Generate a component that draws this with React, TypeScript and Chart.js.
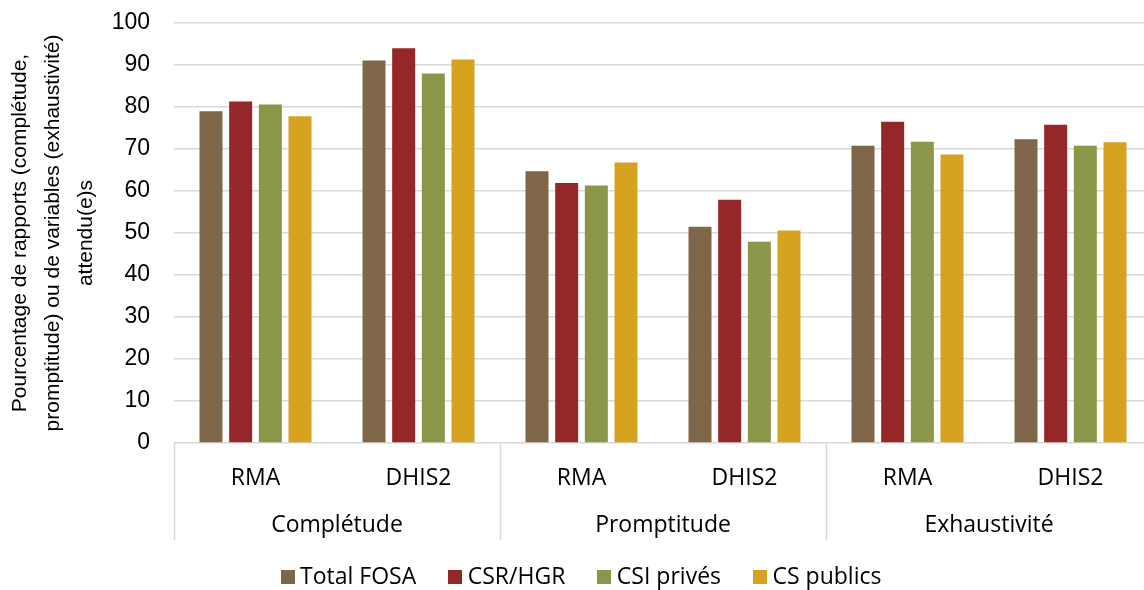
import React, { useEffect, useRef } from "react";
import { Chart, registerables } from "chart.js";

Chart.register(...registerables);

const categories = ["RMA", "DHIS2", "RMA", "DHIS2", "RMA", "DHIS2"];
const groups = ["Complétude", "Promptitude", "Exhaustivité"];
const seriesNames = ["Total FOSA", "CSR/HGR", "CSI privés", "CS publics"];
const totalFosa = [79.0, 91.1, 64.7, 51.5, 70.8, 72.3];
const csrHgr = [81.3, 94.0, 61.9, 57.9, 76.5, 75.8];
const csiPrives = [80.6, 88.0, 61.3, 47.9, 71.7, 70.8];
const csPublics = [77.8, 91.3, 66.8, 50.6, 68.7, 71.6];
const seriesColors = ["#7f6648", "#952729", "#8b9648", "#d6a220"];
const yTitle = [
  "Pourcentage de rapports (complétude,",
  "promptitude) ou de variables (exhaustivité)",
  "attendu(e)s",
];

const GRID = "#d9d9d9";
const SANS = "'Liberation Sans', Arial, sans-serif";
const LABEL = "'Open Sans', sans-serif";

const groupPlugin = {
  id: "groupLabels",
  afterDraw(chart: any) {
    const { ctx, chartArea } = chart;
    const xs = chart.scales.x;
    const n = categories.length;
    const catW = (chartArea.right - chartArea.left) / n;
    ctx.save();
    ctx.strokeStyle = GRID;
    ctx.lineWidth = 1.5;
    for (let k = 0; k <= groups.length; k++) {
      const x = Math.round(xs.left + k * 2 * catW) + 0.5;
      ctx.beginPath();
      ctx.moveTo(x, chartArea.bottom);
      ctx.lineTo(x, 540);
      ctx.stroke();
    }
    ctx.fillStyle = "#000";
    ctx.font = `23px ${LABEL}`;
    ctx.textAlign = "center";
    ctx.textBaseline = "middle";
    groups.forEach((g, i) => {
      const cx = (xs.getPixelForValue(i * 2) + xs.getPixelForValue(i * 2 + 1)) / 2;
      ctx.fillText(g, cx, 525);
    });

    // legend built from the datasets
    const items = chart.data.datasets.map((ds: any) => ({
      text: ds.label as string,
      color: ds.backgroundColor as string,
    }));
    const box = 14;
    const gap = 5.5;
    const itemGap = 32;
    const widths = items.map((it: any) => box + gap + ctx.measureText(it.text).width);
    const total = widths.reduce((a: number, b: number) => a + b, 0) + itemGap * (items.length - 1);
    let x = 581 - total / 2;
    const cy = 577;
    ctx.textAlign = "left";
    items.forEach((it: any, i: number) => {
      ctx.fillStyle = it.color;
      ctx.fillRect(Math.round(x), cy - box / 2, box, box);
      ctx.fillStyle = "#000";
      ctx.fillText(it.text, x + box + gap, cy);
      x += widths[i] + itemGap;
    });
    ctx.restore();
  },
};

export default function App() {
  const ref = useRef<HTMLCanvasElement>(null);
  useEffect(() => {
    document.body.style.margin = "0";
    const data = [totalFosa, csrHgr, csiPrives, csPublics];
    const chart = new Chart(ref.current as HTMLCanvasElement, {
      type: "bar",
      data: {
        labels: categories,
        datasets: seriesNames.map((name, i) => ({
          label: name,
          data: data[i],
          backgroundColor: seriesColors[i],
          borderWidth: 0,
          categoryPercentage: 0.728,
          barPercentage: 0.775,
        })),
      },
      options: {
        responsive: false,
        animation: false,
        layout: { padding: { top: 23, right: 0, left: 0, bottom: 0 } },
        plugins: {
          tooltip: { enabled: false },
          legend: { display: false },
        },
        scales: {
          x: {
            grid: { display: false },
            border: { display: false },
            afterFit(scale: any) {
              scale.height = 147;
            },
            ticks: {
              color: "#000",
              padding: 14,
              font: { family: LABEL, size: 23 },
              maxRotation: 0,
              autoSkip: false,
            },
          },
          y: {
            min: 0,
            max: 100,
            afterFit(scale: any) {
              scale.width = 174;
              scale.paddingTop = 0;
              scale.paddingBottom = 0;
            },
            grid: { color: GRID, lineWidth: 1.5, drawTicks: false },
            border: { display: false },
            ticks: {
              stepSize: 10,
              color: "#000",
              padding: 24,
              font: { family: SANS, size: 23 },
            },
            title: {
              display: true,
              text: yTitle,
              color: "#000",
              padding: { top: 4, bottom: 0 },
              font: { family: SANS, size: 21, lineHeight: 1.57 },
            },
          },
        },
      },
      plugins: [groupPlugin],
    });
    return () => chart.destroy();
  }, []);
  return (
    <div style={{ width: 1144, height: 590, overflow: "hidden", background: "#fff" }}>
      <canvas ref={ref} width={1152} height={590} style={{ display: "block" }} />
    </div>
  );
}
